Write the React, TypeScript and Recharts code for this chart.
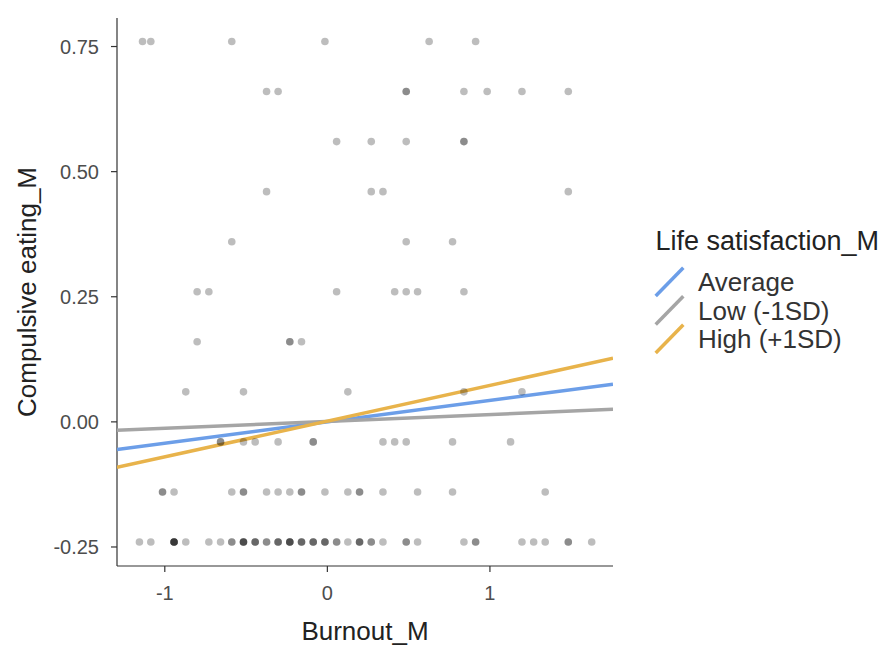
import React from 'react';
import { ScatterChart, Scatter, XAxis, YAxis } from 'recharts';

// Burnout_M values at each Compulsive eating_M level (repeats = overlapping points)
const burnoutAt076 = [-1.137, -1.086, -0.588, -0.015, 0.626, 0.912];
const burnoutAt066 = [-0.374, -0.303, 0.485, 0.485, 0.84, 0.983, 1.197, 1.482];
const burnoutAt056 = [0.057, 0.27, 0.485, 0.84, 0.84];
const burnoutAt046 = [-0.374, 0.27, 0.342, 1.482];
const burnoutAt036 = [-0.588, 0.485, 0.77];
const burnoutAt026 = [-0.801, -0.729, 0.057, 0.414, 0.485, 0.555, 0.84];
const burnoutAt016 = [-0.801, -0.231, -0.231, -0.159];
const burnoutAt006 = [-0.871, -0.516, 0.126, 0.84, 1.197];
const burnoutAtM004 = [-0.657, -0.657, -0.516, -0.444, -0.303, -0.087, -0.087, 0.342, 0.414, 0.485, 0.77, 1.127];
const burnoutAtM014 = [
  -1.014, -1.014, -0.943, -0.588, -0.516, -0.516, -0.374, -0.303, -0.231, -0.159, -0.159,
  -0.015, 0.126, 0.198, 0.198, 0.342, 0.555, 0.77, 1.34,
];
const burnoutAtM024 = [
  -1.156, -1.086, -0.943, -0.943, -0.943, -0.943, -0.943, -0.871, -0.729, -0.657, -0.588, -0.588,
  -0.516, -0.516, -0.516, -0.516, -0.444, -0.444, -0.444, -0.374, -0.374, -0.303, -0.303, -0.303,
  -0.231, -0.231, -0.231, -0.231, -0.159, -0.159, -0.159, -0.087, -0.087, -0.087, -0.015, -0.015,
  -0.015, 0.057, 0.057, 0.126, 0.198, 0.198, 0.198, 0.27, 0.27, 0.342, 0.485, 0.485, 0.555, 0.84,
  0.912, 0.912, 1.197, 1.269, 1.34, 1.482, 1.482, 1.626,
];

const rows: [number, number[]][] = [
  [0.76, burnoutAt076],
  [0.66, burnoutAt066],
  [0.56, burnoutAt056],
  [0.46, burnoutAt046],
  [0.36, burnoutAt036],
  [0.26, burnoutAt026],
  [0.16, burnoutAt016],
  [0.06, burnoutAt006],
  [-0.04, burnoutAtM004],
  [-0.14, burnoutAtM014],
  [-0.24, burnoutAtM024],
];

// simple slopes, read at the panel edges
const lineX = [-1.294, 1.757];
const averageY = [-0.055, 0.075];
const lowY = [-0.017, 0.025];
const highY = [-0.091, 0.127];

const xTicks = [-1, 0, 1];
const yTicks = [-0.25, 0, 0.25, 0.5, 0.75];

const legendItems = [
  { name: 'Average', color: '#6C9EE8' },
  { name: 'Low (-1SD)', color: '#A5A5A5' },
  { name: 'High (+1SD)', color: '#E8B34B' },
];

const FONT = '"Liberation Sans", Arial, sans-serif';

const toLine = (ys: number[]) => lineX.map((x, i) => ({ x, y: ys[i] }));

export default function App() {
  const points = rows.flatMap(([y, xs]) => xs.map((x) => ({ x, y })));
  const lines = [averageY, lowY, highY];

  return (
    <div style={{ position: 'absolute', left: 0, top: 0, width: 882, height: 645, background: '#fff', fontFamily: FONT }}>
      <ScatterChart width={882} height={645} margin={{ top: 18, right: 269, bottom: 0, left: 0 }}>
        <XAxis
          type="number"
          dataKey="x"
          domain={[-1.294, 1.757]}
          ticks={xTicks}
          allowDataOverflow
          height={79}
          tickSize={6}
          tickMargin={14}
          tick={{ fill: '#4d4d4d', fontSize: 20, fontFamily: FONT }}
          axisLine={{ stroke: '#333', strokeWidth: 1.2 }}
          tickLine={{ stroke: '#333', strokeWidth: 1.2 }}
          label={(props: any) => {
            const vb = props.viewBox || { x: 117, y: 566, width: 496 };
            return (
              <text x={vb.x + vb.width / 2} y={vb.y + 74} textAnchor="middle" fontSize={26} fill="#222" fontFamily={FONT}>
                Burnout_M
              </text>
            );
          }}
        />
        <YAxis
          type="number"
          dataKey="y"
          domain={[-0.288, 0.807]}
          ticks={yTicks}
          allowDataOverflow
          width={117}
          tickSize={6}
          tickMargin={12}
          tickFormatter={(v: number) => v.toFixed(2)}
          tick={{ fill: '#4d4d4d', fontSize: 20, fontFamily: FONT }}
          axisLine={{ stroke: '#333', strokeWidth: 1.2 }}
          tickLine={{ stroke: '#333', strokeWidth: 1.2 }}
          label={(props: any) => {
            const vb = props.viewBox || { x: 0, y: 18, height: 548 };
            const cx = vb.x + 27;
            const cy = vb.y + vb.height / 2;
            return (
              <text
                x={cx}
                y={cy}
                transform={`rotate(-90 ${cx} ${cy})`}
                textAnchor="middle"
                dominantBaseline="central"
                fontSize={26}
                fill="#222"
                fontFamily={FONT}
              >
                Compulsive eating_M
              </text>
            );
          }}
        />
        {lines.map((ys, i) => (
          <Scatter
            key={legendItems[i].name}
            data={toLine(ys)}
            line={{ stroke: legendItems[i].color, strokeWidth: 3.5 }}
            shape={() => <g />}
            isAnimationActive={false}
          />
        ))}
        <Scatter
          data={points}
          fill="#000"
          fillOpacity={0.26}
          shape={(p: any) => <circle cx={p.cx} cy={p.cy} r={3.8} fill="#000" fillOpacity={0.26} />}
          isAnimationActive={false}
        />
      </ScatterChart>
      <svg width={242} height={150} style={{ position: 'absolute', left: 640, top: 215 }}>
        <text x={15.5} y={35} fontSize={27} fill="#222" fontFamily={FONT}>
          Life satisfaction_M
        </text>
        {legendItems.map((item, i) => (
          <g key={item.name}>
            <line
              x1={15.7}
              y1={81 + i * 28.5}
              x2={43.3}
              y2={52.7 + i * 28.5}
              stroke={item.color}
              strokeWidth={3.5}
            />
            <text x={58} y={76 + i * 28.5} fontSize={26} fill="#333" fontFamily={FONT}>
              {item.name}
            </text>
          </g>
        ))}
      </svg>
    </div>
  );
}
